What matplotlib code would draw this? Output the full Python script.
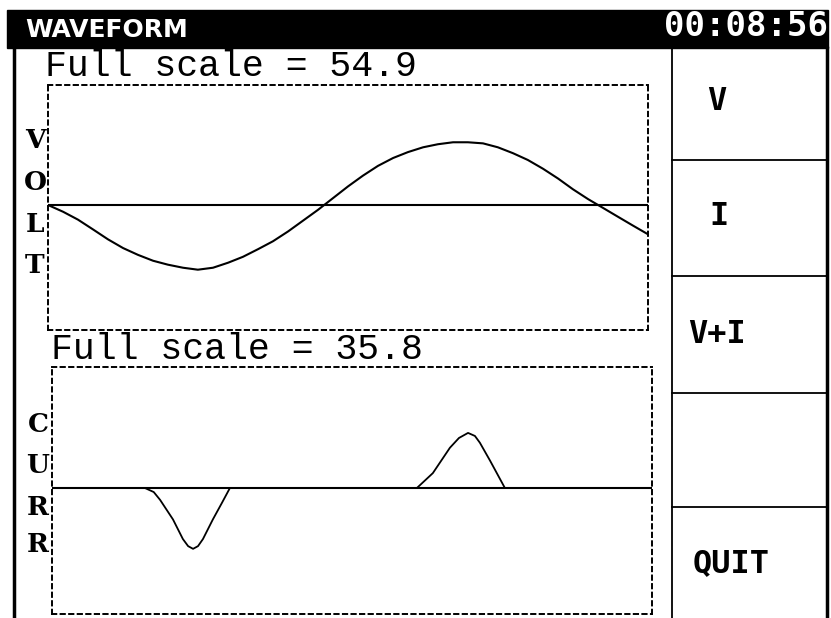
import matplotlib
matplotlib.use('Agg')
import matplotlib.pyplot as plt
from matplotlib.patches import Rectangle

# ---------------- data ----------------
volt_full_scale = 54.9
curr_full_scale = 35.8
clock_text = "00:08:56"
title_text = "WAVEFORM"
buttons = ["V", "I", "V+I", "", "QUIT"]
volt_label = ["V", "O", "L", "T"]
curr_label = ["C", "U", "R", "R"]

# time (ms) and voltage (V)
volt_t = [0.0, 0.55, 1.09, 1.64, 2.18, 2.73, 3.27, 3.82, 4.36, 4.91, 5.45,
          6.0, 6.55, 7.09, 7.64, 8.18, 8.73, 9.27, 9.82, 10.36, 10.91, 11.45,
          12.0, 12.55, 13.09, 13.64, 14.18, 14.73, 15.27, 15.82, 16.36, 16.91,
          17.45, 18.0, 18.55, 19.09, 19.64, 20.18, 20.73, 21.27, 21.82]
volt_v = [0.0, -3.1, -6.7, -11.2, -15.7, -19.7, -22.8, -25.5, -27.3, -28.7,
          -29.6, -28.7, -26.4, -23.7, -20.2, -16.6, -12.1, -7.2, -2.2, 3.1,
          8.5, 13.4, 17.9, 21.5, 24.2, 26.4, 27.8, 28.7, 28.7, 28.2, 26.4,
          23.7, 20.6, 16.6, 12.1, 7.2, 2.7, -1.3, -5.4, -9.4, -13.4]

# time (ms) and current (A)
curr_t = [0.0, 3.38, 3.70, 3.93, 4.40, 4.76, 4.95, 5.13, 5.31, 5.49, 5.85,
          6.18, 6.47, 13.27, 13.85, 14.47, 14.80, 15.13, 15.38, 15.56, 15.93,
          16.47, 21.82]
curr_i = [0.0, 0.0, -1.2, -3.5, -9.3, -15.1, -17.2, -18.0, -17.2, -15.1,
          -9.3, -4.4, 0.0, 0.0, 4.4, 11.9, 14.8, 16.3, 15.4, 13.4, 8.1, 0.0,
          0.0]

# ---------------- figure ----------------
W, H = 831, 618
fig = plt.figure(figsize=(W / 100, H / 100), dpi=100)
fig.patch.set_facecolor('white')

bg = fig.add_axes([0, 0, 1, 1])
bg.set_xlim(0, W)
bg.set_ylim(H, 0)
bg.axis('off')


def px_axes(x0, y0, x1, y1):
    return fig.add_axes([x0 / W, 1 - y1 / H, (x1 - x0) / W, (y1 - y0) / H])


# title bar
bg.add_patch(Rectangle((7, 10), 821, 38, color='black', zorder=1))
bg.text(25, 37, title_text, color='white', fontfamily='DejaVu Sans',
        fontweight='bold', fontsize=18, ha='left', va='baseline', zorder=2)
bg.text(828, 36, clock_text, color='white', fontfamily='DejaVu Sans Mono',
        fontweight='bold', fontsize=24.5, ha='right', va='baseline', zorder=2)

# frame lines
bg.plot([14, 14], [48, 618], color='black', lw=2.5)
bg.plot([827, 827], [48, 618], color='black', lw=2.5)
bg.plot([672, 672], [48, 618], color='black', lw=1.3)
for ysep in [160, 276, 393, 507]:
    bg.plot([672, 827], [ysep, ysep], color='black', lw=1.3)

# button labels
btn_pos = [(717, 110), (719, 225), (717, 343), (717, 450), (731, 572)]
for lab, (bx, by) in zip(buttons, btn_pos):
    if lab:
        bg.text(bx, by, lab, fontfamily='DejaVu Sans Mono', fontweight='bold',
                fontsize=23, ha='center', va='baseline', color='black')

# full-scale captions
bg.text(45, 76, f"Full scale = {volt_full_scale}", fontfamily='Liberation Mono',
        fontweight='normal', fontsize=26.3, ha='left', va='baseline')
bg.text(51, 359, f"Full scale = {curr_full_scale}", fontfamily='Liberation Mono',
        fontweight='normal', fontsize=26.3, ha='left', va='baseline')

# vertical letters
for ch, by in zip(volt_label, [148, 190, 232, 273]):
    bg.text(35, by, ch, fontfamily='DejaVu Serif', fontweight='bold',
            fontsize=19, ha='center', va='baseline')
for ch, by in zip(curr_label, [432, 473, 515, 552]):
    bg.text(38, by, ch, fontfamily='DejaVu Serif', fontweight='bold',
            fontsize=19, ha='center', va='baseline')


def style_box(ax):
    ax.set_facecolor('none')
    ax.set_xticks([])
    ax.set_yticks([])
    for sp in ax.spines.values():
        sp.set_linestyle((0, (2.2, 2.2)))
        sp.set_linewidth(1.4)
        sp.set_color('black')


# voltage panel
axv = px_axes(48, 85, 648, 330)
style_box(axv)
axv.set_xlim(volt_t[0], volt_t[-1])
axv.set_ylim(-volt_full_scale * 125 / 120, volt_full_scale)
axv.axhline(0, color='black', lw=1.5)
axv.plot(volt_t, volt_v, color='black', lw=1.5)

# current panel
axi = px_axes(52, 367, 652, 614)
style_box(axi)
axi.set_xlim(curr_t[0], curr_t[-1])
axi.set_ylim(-curr_full_scale * 126 / 121, curr_full_scale)
axi.axhline(0, color='black', lw=1.5)
axi.plot(curr_t, curr_i, color='black', lw=1.3)

fig.savefig('out.png', dpi=100, facecolor='white')
